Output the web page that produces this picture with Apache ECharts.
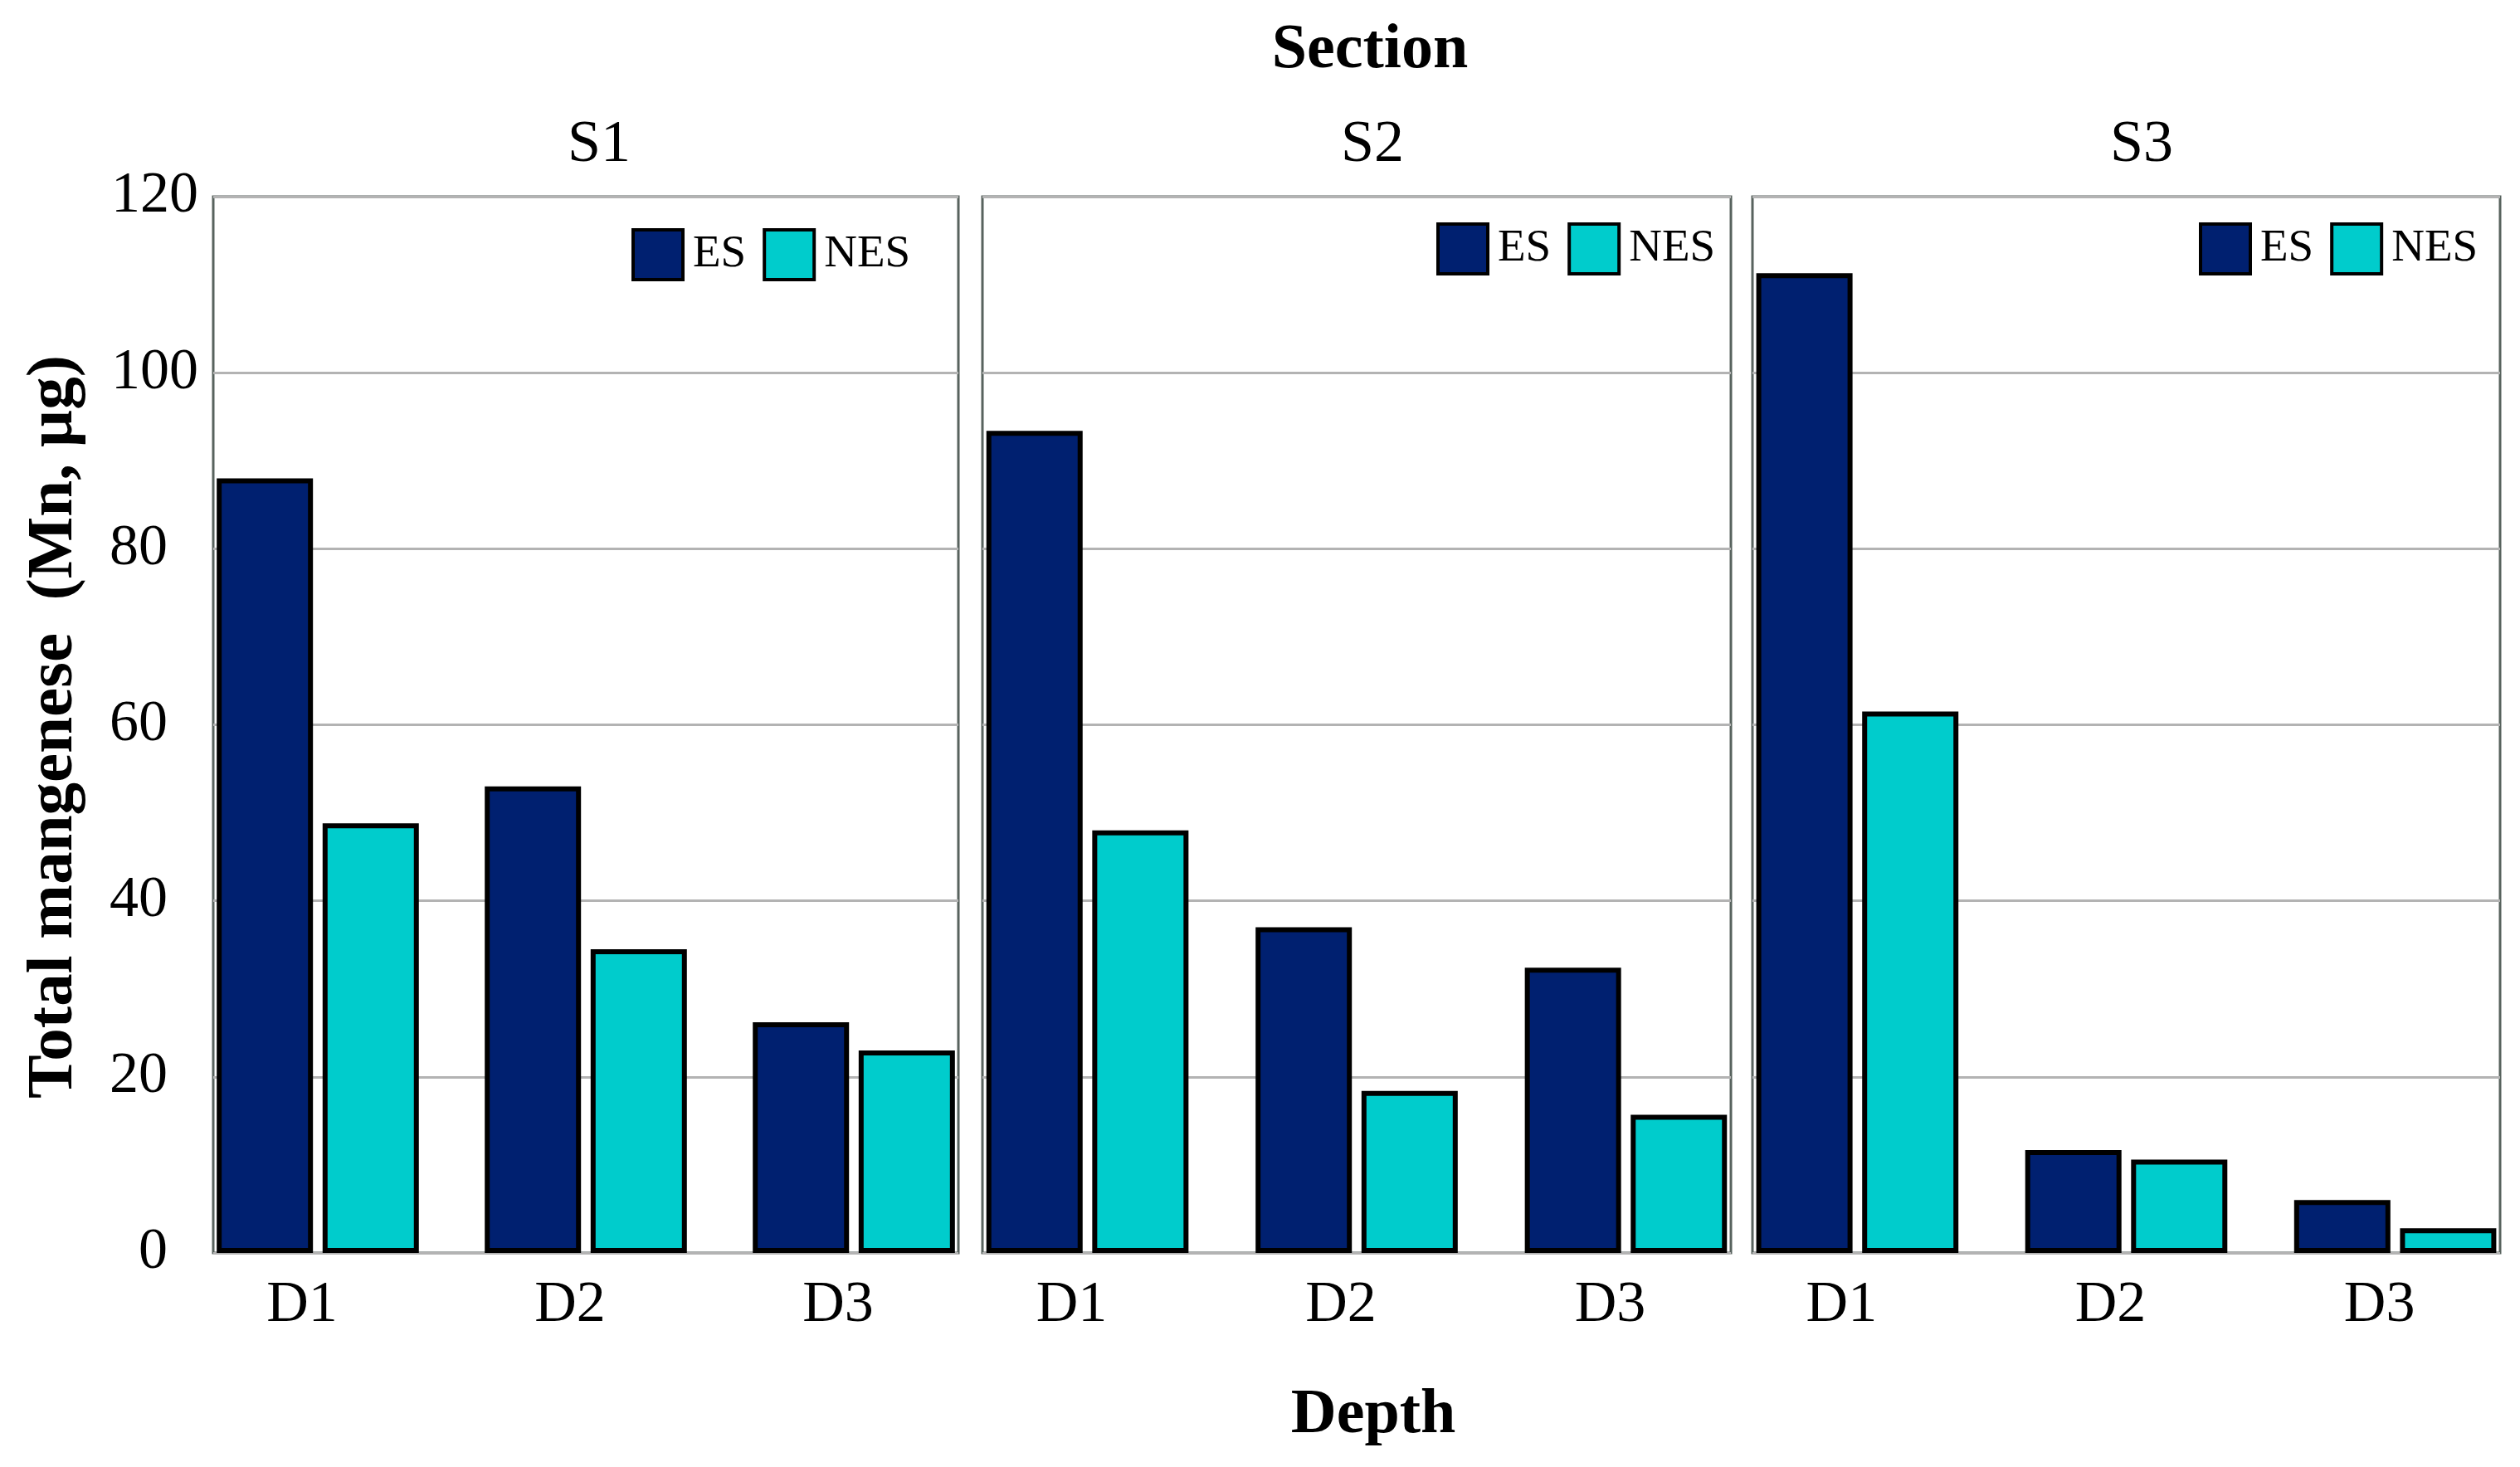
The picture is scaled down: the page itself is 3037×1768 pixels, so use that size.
<!DOCTYPE html>
<html>
<head>
<meta charset="utf-8">
<script src="https://cdn.jsdelivr.net/npm/echarts@6/dist/echarts.min.js"></script>
<style>
  html, body { margin: 0; padding: 0; background: #ffffff; }
  #chart { width: 3037px; height: 1768px; }
</style>
</head>
<body>
<div id="chart"></div>
<script>
// ---- data ----
const categories = ['D1', 'D2', 'D3'];
const sections = ['S1', 'S2', 'S3'];
const seriesNames = ['ES', 'NES'];
const s1ES  = [88.0, 53.0, 26.2];
const s1NES = [48.8, 34.5, 23.0];
const s2ES  = [93.4, 37.0, 32.4];
const s2NES = [48.0, 18.4, 15.7];
const s3ES  = [111.3, 11.7, 6.0];
const s3NES = [61.5, 10.6, 2.8];

const esBySection = [s1ES, s2ES, s3ES];
const nesBySection = [s1NES, s2NES, s3NES];

// ---- layout / style ----
const FONT = 'Liberation Serif';
const ES_COLOR = '#002070';
const NES_COLOR = '#00CCCC';
const panels = [
  { left: 257, width: 898 },
  { left: 1184, width: 902 },
  { left: 2112, width: 901 }
];
const gridTop = 237, gridHeight = 1273;
const legendPos = [
  { left: 761, top: 275 },
  { left: 1731, top: 268 },
  { left: 2650, top: 268 }
];
const titleX = [722, 1654, 2581];

const chart = echarts.init(document.getElementById('chart'));

const grids = [], xAxes = [], yAxes = [], series = [], legends = [], graphics = [];

const labelFont = { fontFamily: FONT, fontSize: 70, color: '#000' };

panels.forEach((p, i) => {
  grids.push({
    left: p.left, top: gridTop, width: p.width, height: gridHeight,
    show: true, borderColor: '#58635e', borderWidth: 3,
    backgroundColor: 'transparent', containLabel: false
  });
  xAxes.push({
    type: 'value', gridIndex: i, min: 0.61, max: 3.39,
    splitLine: { show: false },
    axisLine: { show: false },
    axisTick: { show: false },
    axisLabel: {
      customValues: [1, 2, 3],
      formatter: v => categories[Math.round(v) - 1] || '',
      fontFamily: FONT, fontSize: 70, color: '#000', lineHeight: 70,
      margin: 29, padding: [0, 38, 0, 0]
    }
  });
  yAxes.push({
    type: 'value', gridIndex: i, min: 0, max: 120, interval: 20,
    axisLine: { show: false },
    axisTick: { show: false },
    splitLine: { show: true, lineStyle: { color: '#b3b3b3', width: 3 } },
    axisLabel: {
      show: i === 0,
      align: 'right',
      margin: 18,
      formatter: v => (v >= 100 ? '{b|' + v + '}' : '{a|' + v + '}'),
      rich: {
        a: Object.assign({ padding: [0, 37, 0, 0] }, labelFont),
        b: Object.assign({}, labelFont)
      },
      fontFamily: FONT, fontSize: 70, color: '#000'
    }
  });
  const mk = (name, vals, color) => ({
    name: name, type: 'bar', xAxisIndex: i, yAxisIndex: i,
    data: categories.map((c, k) => [k + 1, vals[k]]),
    barWidth: 116, barGap: '10%',
    itemStyle: { color: color, borderColor: '#000', borderWidth: 6 },
    emphasis: { disabled: true }
  });
  series.push(mk(seriesNames[0], esBySection[i], ES_COLOR));
  series.push(mk(seriesNames[1], nesBySection[i], NES_COLOR));
  legends.push({
    left: legendPos[i].left, top: legendPos[i].top, padding: 0,
    orient: 'horizontal', icon: 'rect',
    itemWidth: 60, itemHeight: 60, itemGap: 20,
    data: seriesNames,
    itemStyle: { borderColor: '#000', borderWidth: 4 },
    textStyle: { fontFamily: FONT, fontSize: 55, color: '#000', lineHeight: 60, padding: [0, 0, 0, 7] },
    selectedMode: false
  });
  graphics.push({
    type: 'text', x: titleX[i], y: 175,
    style: { text: sections[i], font: '72px "Liberation Serif"', fill: '#000', textAlign: 'center', textVerticalAlign: 'middle' }
  });
});

graphics.push({
  type: 'text', x: 1651, y: 61,
  style: { text: 'Section', font: 'bold 76px "Liberation Serif"', fill: '#000', textAlign: 'center', textVerticalAlign: 'middle' }
});
graphics.push({
  type: 'text', x: 1655, y: 1706,
  style: { text: 'Depth', font: 'bold 76px "Liberation Serif"', fill: '#000', textAlign: 'center', textVerticalAlign: 'middle' }
});
graphics.push({
  type: 'text', x: 66, y: 876, rotation: Math.PI / 2,
  style: { text: 'Total mangenese  (Mn, \u00B5g)', font: 'bold 79px "Liberation Serif"', fill: '#000', textAlign: 'center', textVerticalAlign: 'middle' }
});

chart.setOption({
  animation: false,
  backgroundColor: '#ffffff',
  grid: grids,
  xAxis: xAxes,
  yAxis: yAxes,
  legend: legends,
  series: series,
  graphic: graphics
});
</script>
</body>
</html>
